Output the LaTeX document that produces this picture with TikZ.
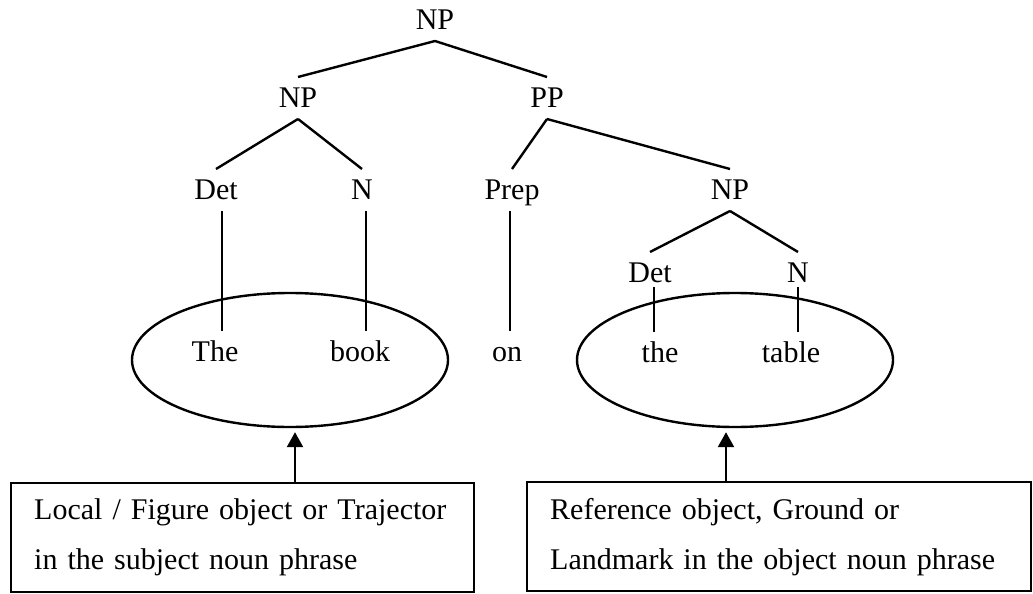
\documentclass[tikz,border=0pt]{standalone}
\usepackage{fontspec}
\setmainfont{Liberation Serif}
\usetikzlibrary{shapes.geometric,arrows.meta}

\begin{document}
\begin{tikzpicture}[x=1pt,y=-1pt,
    cat/.style={font=\fontsize{30}{36}\selectfont,text height=19.6pt,
        text depth=0pt,inner sep=11pt},
    branch/.style={line width=2.4pt},
    bubble/.style={draw,ellipse,line width=2.4pt,minimum width=316pt,
        minimum height=134pt,inner sep=0pt},
    rolebox/.style={draw,line width=2.4pt,anchor=north west,align=left,
        inner xsep=23pt,minimum height=109pt,font=\fontsize{30}{50}\selectfont},
    pointer/.style={line width=2.4pt,-{Triangle[length=15pt,width=16pt]},
        shorten >=4pt}]

% Fix the page to the size of the figure.
\useasboundingbox (0,0) rectangle (1033,594);

% Phrase structure tree.
% Category labels, top down.
\node[cat] (nptop) at (435,20) {NP};
\node[cat] (npsubj) at (298,98) {NP};
\node[cat] (pp) at (547,98) {PP};
\node[cat] (detsubj) at (216,190) {Det};
\node[cat] (nsubj) at (362,190) {N};
\node[cat] (prep) at (512,190) {Prep};
\node[cat] (npobj) at (730,190) {NP};
\node[cat] (detobj) at (650,273) {Det};
\node[cat] (nobj) at (798,273) {N};

% Words of the sentence.
\node[cat] (wthe) at (215,352) {The};
\node[cat] (wbook) at (360,352) {book};
\node[cat] (won) at (507,352) {on};
\node[cat] (wtheobj) at (660,353) {the};
\node[cat] (wtable) at (791,353) {table};

% Branches between categories.
\foreach \a/\b in {nptop/npsubj,nptop/pp,npsubj/detsubj,npsubj/nsubj,
    pp/prep,pp/npobj,npobj/detobj,npobj/nobj} {
    \draw[branch] (\a.south) -- (\b.north);
}

% Vertical lines from each category down to its word.
% (the lower Det and N lines start closer under their labels)
\foreach \a/\b/\dx/\up in {detsubj/wthe/6/0,nsubj/wbook/4/0,prep/won/-2/0,
    detobj/wtheobj/4/7,nobj/wtable/0/7} {
    \draw[branch]
        ([xshift=\dx pt,yshift=\up pt]\a.south) coordinate (top)
        -- (top |- \b.north);
}

% Ellipses round the two noun phrases.
\node[bubble] (figell) at (290,360) {};
\node[bubble] (refell) at (735,360) {};

% Boxes with the roles.
\node[rolebox,text width=417pt] (figbox) at (10,482)
    {Local / Figure object or Trajector\\in the subject noun phrase};
\node[rolebox,text width=458pt] (refbox) at (526,481)
    {Reference object, Ground or\\Landmark in the object noun phrase};

% Arrows from the boxes up to the ellipses.
\path ([xshift=5pt]figell.south) coordinate (figtip);
\draw[pointer] (figtip |- figbox.north) -- (figtip);
\path ([xshift=-9pt]refell.south) coordinate (reftip);
\draw[pointer] (reftip |- refbox.north) -- (reftip);

\end{tikzpicture}
\end{document}
